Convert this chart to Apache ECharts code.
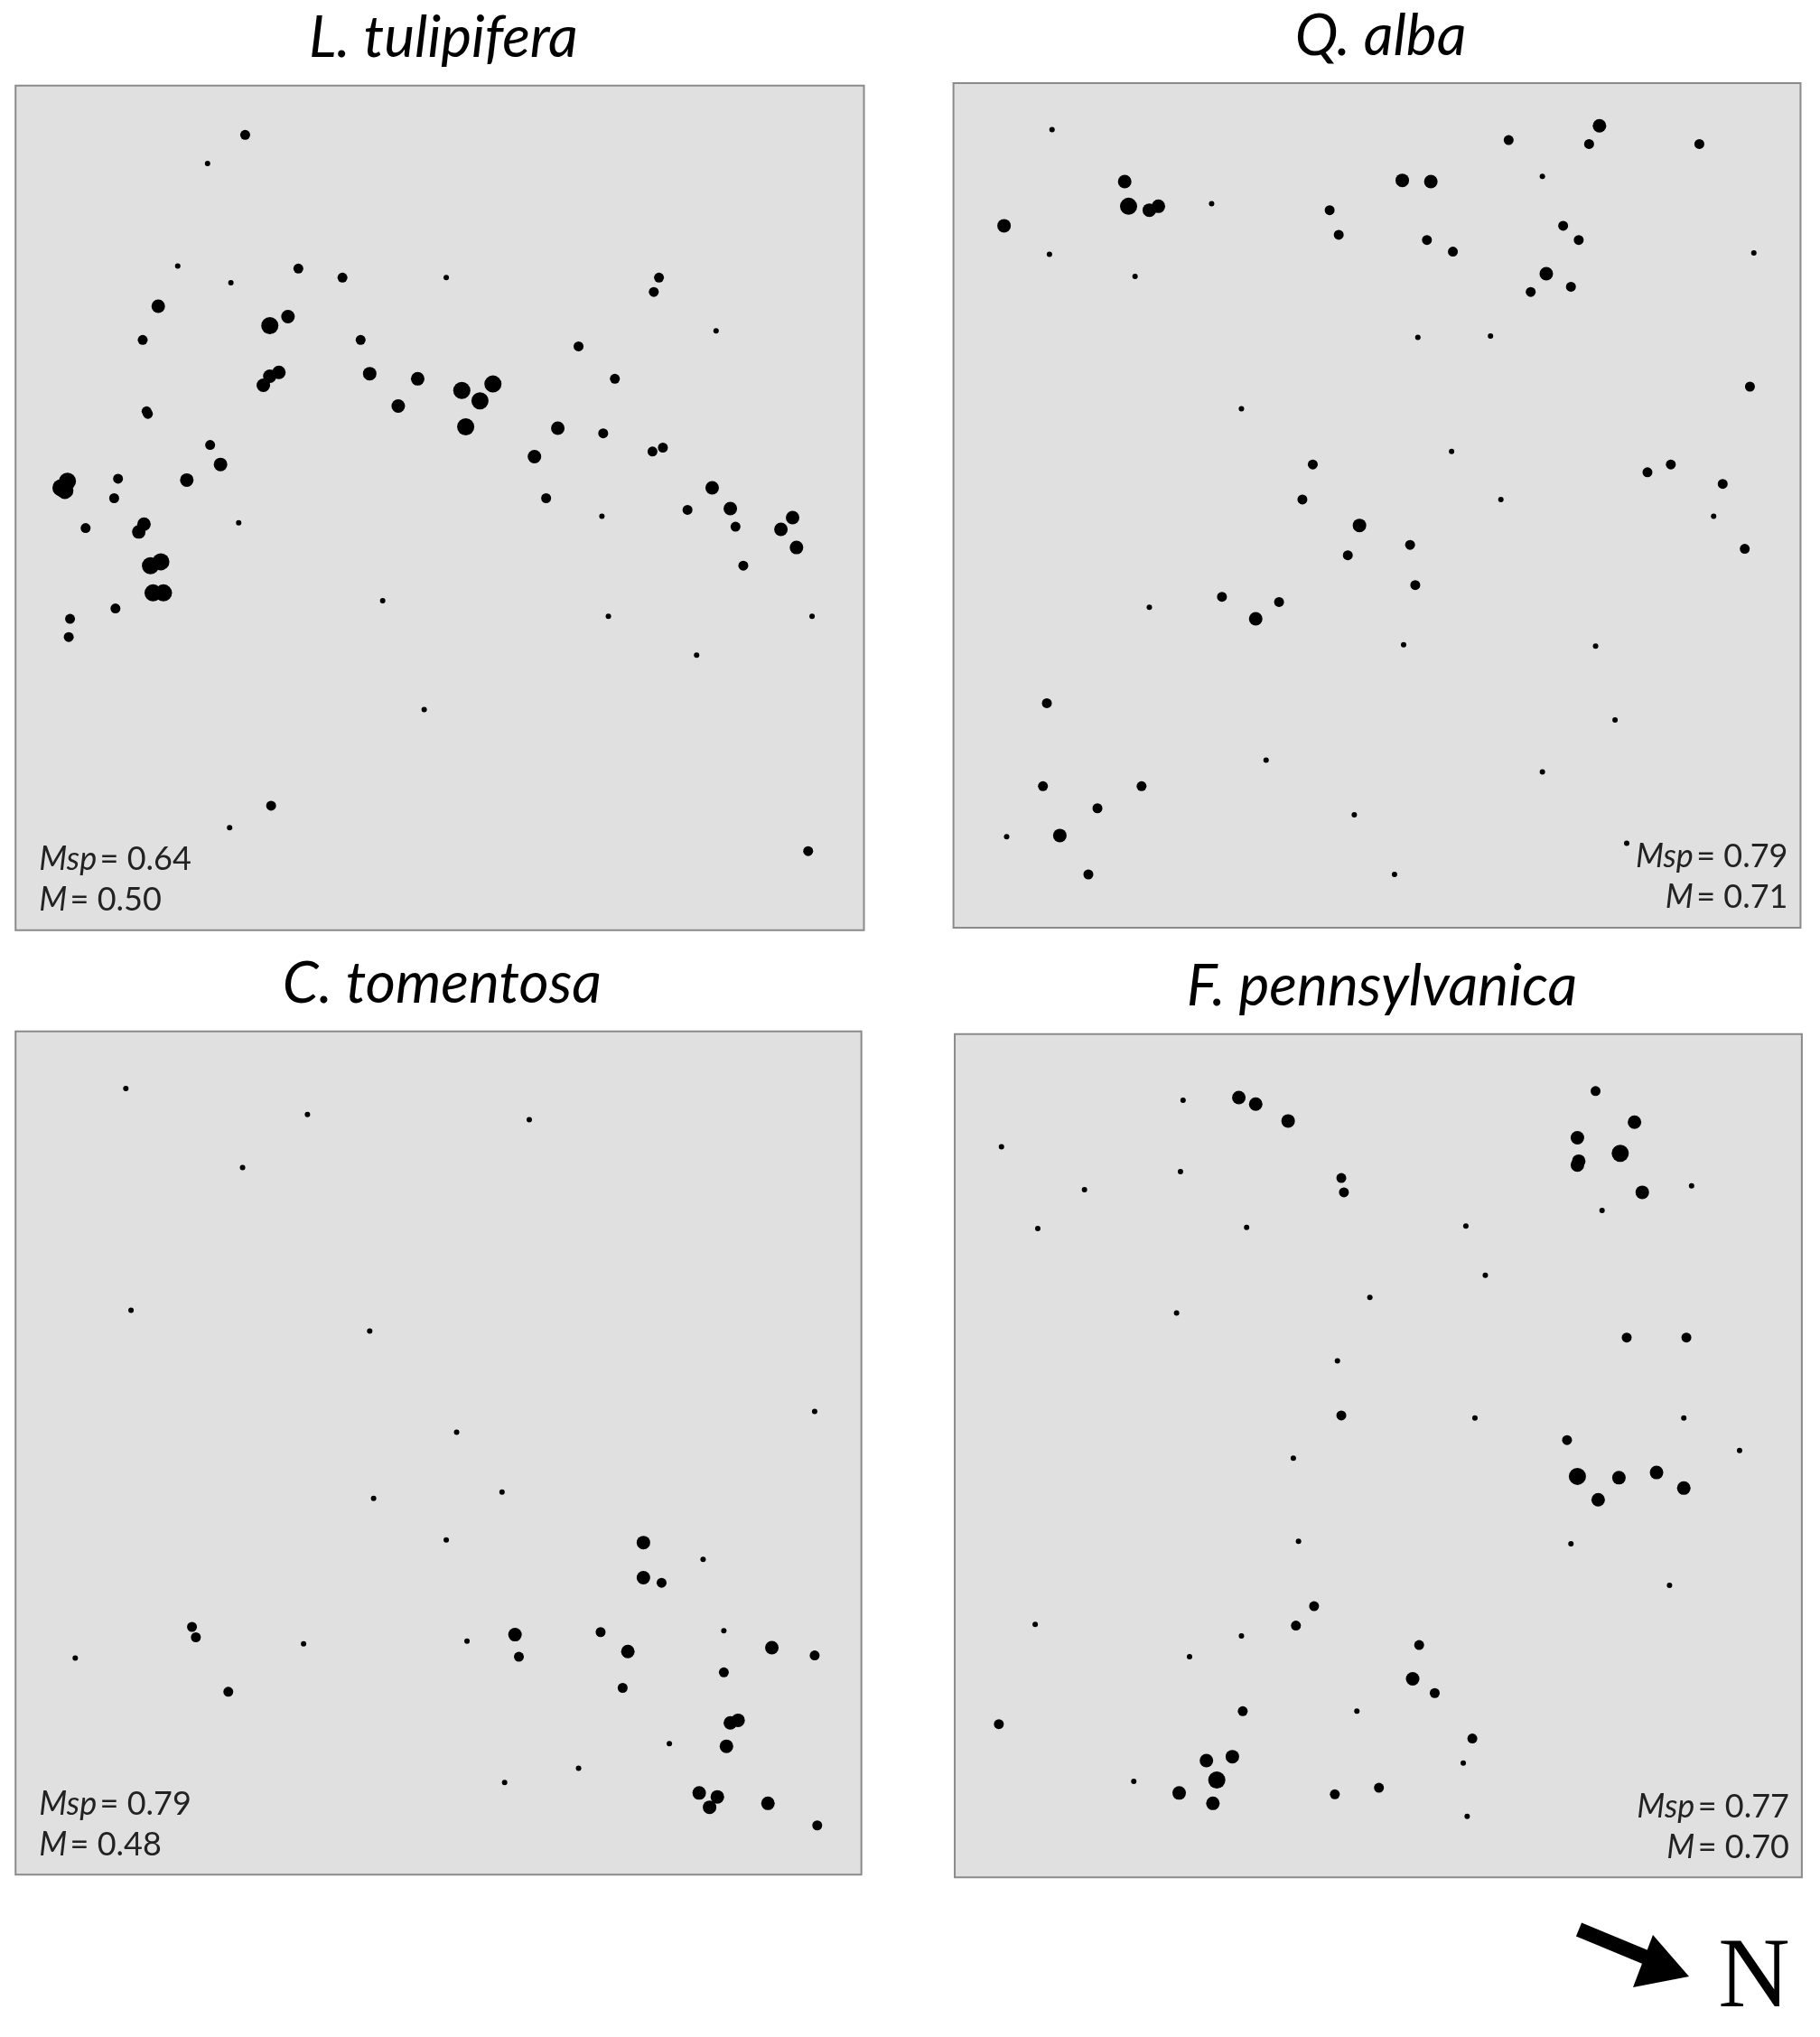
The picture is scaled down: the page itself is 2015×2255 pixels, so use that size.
<!DOCTYPE html>
<html><head><meta charset="utf-8">
<script src="https://cdn.jsdelivr.net/npm/echarts@6/dist/echarts.min.js"></script>
<style>html,body{margin:0;padding:0;background:#fff}#c{width:2015px;height:2255px}</style>
</head><body><div id="c"></div>
<script>
// Panel titles and stats
const titles = ["L. tulipifera", "Q. alba", "C. tomentosa", "F. pennsylvanica"];
const mspValues = ["0.64", "0.79", "0.79", "0.77"];
const mValues = ["0.50", "0.71", "0.48", "0.70"];
// Panel extents in map units [xmin, xmax, ymin, ymax]
const extents = [[12,666,66,717],[735,1388,64,715],[12,664,795,1445],[736,1389,797,1447]];
// Points: [x, y, sizeClass]
const tulipifera = [[189,104,2],[160,126,1],[137,205,1],[178,218,1],[230,207,2],[264,214,2],[344,214,1],[122,236,3],[208,251,4],[222,244,3],[110,262,2],[278,262,2],[203,297,3],[208,290,3],[215,287,3],[285,288,3],[322,292,3],[307,313,3],[356,301,4],[370,309,4],[380,296,4],[359,329,4],[113,317,2],[114,319,2],[162,343,2],[170,358,3],[144,370,3],[184,403,1],[91,369,2],[88,384,2],[66,407,2],[47,376,4],[52,371,4],[50,378,4],[107,410,3],[111,404,3],[116,436,4],[124,433,4],[118,457,4],[126,457,4],[54,477,2],[53,491,2],[89,469,2],[295,463,1],[327,547,1],[209,621,2],[177,638,1],[508,214,2],[504,225,2],[446,267,2],[552,255,1],[474,292,2],[430,330,3],[465,334,2],[412,352,3],[421,384,2],[464,398,1],[503,348,2],[511,345,2],[469,475,1],[537,505,1],[549,376,3],[563,392,3],[530,393,2],[567,406,2],[573,436,2],[602,408,3],[611,399,3],[614,422,3],[626,475,1],[623,656,2]];
const alba = [[811,100,1],[774,174,3],[809,196,1],[867,140,3],[870,159,4],[886,162,3],[893,159,3],[934,157,1],[875,213,1],[1025,162,2],[1032,181,2],[1081,139,3],[1103,140,3],[1100,185,2],[1120,194,2],[1163,108,2],[1189,136,1],[1225,111,2],[1233,97,3],[1310,111,2],[1205,174,2],[1217,185,2],[1192,211,3],[1180,225,2],[1211,221,2],[1352,195,1],[1093,260,1],[1149,259,1],[957,315,1],[1349,298,2],[1119,348,1],[1012,358,2],[1004,385,2],[1157,385,1],[1048,405,3],[1039,428,2],[1087,420,2],[1091,451,2],[1270,364,2],[1288,358,2],[1328,373,2],[1321,398,1],[1345,423,2],[886,468,1],[942,460,2],[968,477,3],[986,464,2],[1082,497,1],[1230,498,1],[1245,555,1],[807,542,2],[976,586,1],[804,606,2],[880,606,2],[846,623,2],[776,645,1],[817,644,3],[1044,628,1],[1189,595,1],[839,674,2],[1075,674,1],[1254,650,1]];
const tomentosa = [[97,839,1],[237,859,1],[408,863,1],[187,900,1],[101,1010,1],[285,1026,1],[628,1088,1],[352,1104,1],[387,1150,1],[288,1155,1],[344,1187,1],[496,1189,3],[542,1202,1],[496,1216,3],[510,1220,2],[148,1254,2],[151,1262,2],[58,1278,1],[234,1267,1],[360,1265,1],[397,1260,3],[400,1277,2],[463,1258,2],[484,1273,3],[558,1257,1],[595,1270,3],[628,1276,2],[558,1289,2],[480,1301,2],[176,1304,2],[563,1328,3],[569,1326,3],[560,1346,3],[516,1344,1],[389,1374,1],[446,1363,1],[539,1382,3],[553,1385,3],[547,1393,3],[592,1390,3],[630,1407,2]];
const pennsylvanica = [[912,848,1],[955,846,3],[968,851,3],[993,864,3],[772,884,1],[910,903,1],[836,917,1],[1034,908,2],[1036,919,2],[800,947,1],[961,946,1],[1130,945,1],[1145,983,1],[1056,1000,1],[907,1012,1],[1230,841,2],[1216,877,3],[1260,865,3],[1249,889,4],[1216,898,3],[1217,895,3],[1266,919,3],[1304,914,1],[1235,933,1],[1031,1049,1],[1254,1031,2],[1300,1031,2],[1034,1091,2],[1137,1093,1],[1298,1093,1],[1341,1118,1],[997,1124,1],[1208,1110,2],[1216,1138,4],[1248,1139,3],[1232,1156,3],[1277,1135,3],[1298,1147,3],[1001,1188,1],[1211,1190,1],[1287,1222,1],[798,1252,1],[1013,1238,2],[999,1253,2],[957,1261,1],[917,1277,1],[1094,1268,2],[1089,1294,3],[1106,1305,2],[1046,1319,1],[958,1319,2],[770,1329,2],[1135,1340,2],[1128,1359,1],[930,1357,3],[950,1354,3],[938,1372,4],[874,1373,1],[909,1382,3],[935,1390,3],[1029,1383,2],[1063,1378,2],[1131,1400,1]];
const datasets = [tulipifera, alba, tomentosa, pennsylvanica];

const S = 2015/1403;
const symSizes = [0, 6, 11, 15, 19];
const grids = [], xAxes = [], yAxes = [], series = [], graphics = [];
extents.forEach((e, i) => {
  const left = e[0]*S, top = e[2]*S, w = (e[1]-e[0])*S, h = (e[3]-e[2])*S;
  grids.push({left, top, width: w, height: h, show: true, backgroundColor: '#e0e0e0', borderColor: '#8a8a8a', borderWidth: 2});
  xAxes.push({type: 'value', gridIndex: i, min: e[0], max: e[1], show: false});
  yAxes.push({type: 'value', gridIndex: i, min: e[2], max: e[3], inverse: true, show: false});
  series.push({type: 'scatter', xAxisIndex: i, yAxisIndex: i, data: datasets[i],
    symbolSize: d => symSizes[d[2]], itemStyle: {color: '#000', opacity: 1}, silent: true});
  graphics.push({type: 'text', x: left + w/2 + 4, y: top - 20, style: {text: titles[i], font: 'italic 64px Lato', fill: '#000', textAlign: 'center', textVerticalAlign: 'bottom'}});
  const right = (i === 1 || i === 3);
  const tx = right ? left + w - 14 : left + 26;
  const align = right ? 'right' : 'left';
  const rich = {it: {font: 'italic 36px Lato', fill: '#222'}, n: {font: '36px Lato', fill: '#222'}};
  graphics.push({type: 'text', x: tx, y: top + h - 78, style: {rich, text: '{it|Msp} {n|= ' + mspValues[i] + '}', textAlign: align, textVerticalAlign: 'middle'}});
  graphics.push({type: 'text', x: tx, y: top + h - 33, style: {rich, text: '{it|M} {n|= ' + mValues[i] + '}', textAlign: align, textVerticalAlign: 'middle'}});
});
// North arrow
graphics.push({type: 'line', shape: {x1: 1748, y1: 2136, x2: 1830, y2: 2170}, style: {stroke: '#000', lineWidth: 16}});
graphics.push({type: 'polygon', shape: {points: [[1870, 2188], [1808, 2200], [1830, 2142]]}, style: {fill: '#000'}});
graphics.push({type: 'text', x: 1942, y: 2192, style: {text: 'N', font: '110px "Liberation Serif"', fill: '#000', textAlign: 'center', textVerticalAlign: 'middle'}});

const chart = echarts.init(document.getElementById('c'));
chart.setOption({animation: false, backgroundColor: '#fff', grid: grids, xAxis: xAxes, yAxis: yAxes, series, graphic: graphics});
</script></body></html>
